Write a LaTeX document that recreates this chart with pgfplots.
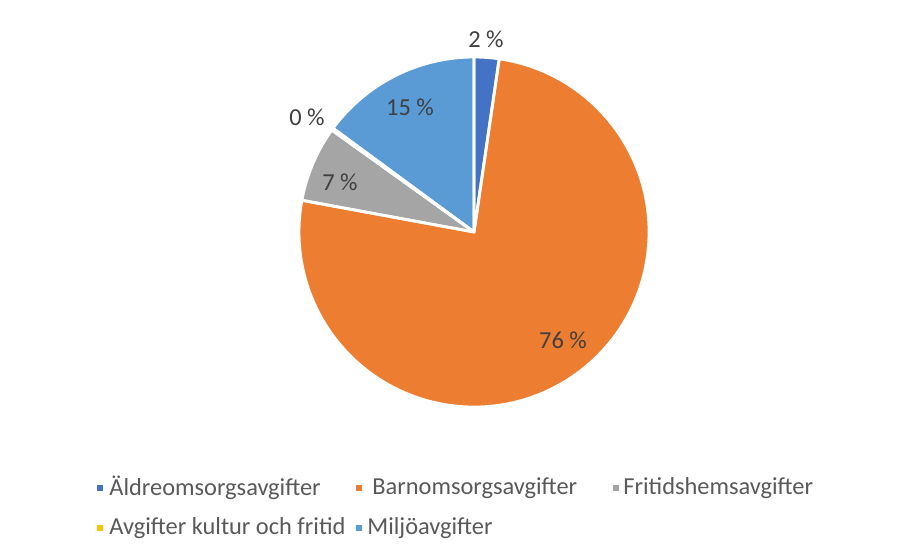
\documentclass[border=0pt]{standalone}
\usepackage{fontspec}
\setmainfont{Carlito}
\usepackage{pgfplots}
\usepackage{pgfplotstable}
\pgfplotsset{compat=1.18}

\definecolor{aldre}{HTML}{4472C4}
\definecolor{barn}{HTML}{ED7D31}
\definecolor{fritids}{HTML}{A5A5A5}
\definecolor{kultur}{HTML}{FFC000}
\definecolor{miljo}{HTML}{5B9BD5}
\definecolor{txt}{HTML}{595959}
\definecolor{lbl}{HTML}{404040}

% share in percent, colour, label position (picture pixels), printed label
\pgfplotstableread{
share colour lx ly label
2.3 aldre 486 39 2
75.6 barn 563 340 76
7.0 fritids 340 182 7
0.2 kultur 307 117 0
14.9 miljo 410 107 15
}\slices

\begin{document}
\begin{tikzpicture}
\begin{axis}[
    x=0.5pt, y=0.5pt,
    xmin=0, xmax=922, ymin=0, ymax=553,
    y dir=reverse,
    hide axis,
    clip=false,
    font=\fontsize{12.2}{14}\selectfont,
]
\path (rel axis cs:0,0) rectangle (rel axis cs:1,1);

\pgfplotstablegetrowsof{\slices}
\pgfmathtruncatemacro\nrows{\pgfplotsretval-1}

% slices
\def\startang{90}
\pgfplotsforeachungrouped \i in {0,...,\nrows}{
  \pgfplotstablegetelem{\i}{share}\of\slices \let\share\pgfplotsretval
  \pgfplotstablegetelem{\i}{colour}\of\slices \let\col\pgfplotsretval
  \pgfmathsetmacro\endang{\startang-3.6*\share}
  \edef\temp{\noexpand\fill[\col] (axis cs:474,232) -- ++(\startang:87.5pt)
    arc[start angle=\startang, end angle=\endang, radius=87.5pt] -- cycle;}
  \temp
  \let\startang\endang
}

% white borders between slices
\def\startang{90}
\pgfplotsforeachungrouped \i in {0,...,\nrows}{
  \pgfplotstablegetelem{\i}{share}\of\slices \let\share\pgfplotsretval
  \pgfmathsetmacro\endang{\startang-3.6*\share}
  \edef\temp{\noexpand\draw[white, line width=1.4pt, line join=round] (axis cs:474,232) -- ++(\startang:87.5pt)
    arc[start angle=\startang, end angle=\endang, radius=87.5pt] -- cycle;}
  \temp
  \let\startang\endang
}

% data labels
\pgfplotsforeachungrouped \i in {0,...,\nrows}{
  \pgfplotstablegetelem{\i}{lx}\of\slices \let\lx\pgfplotsretval
  \pgfplotstablegetelem{\i}{ly}\of\slices \let\ly\pgfplotsretval
  \pgfplotstablegetelem{\i}{label}\of\slices \let\lab\pgfplotsretval
  \edef\temp{\noexpand\node[text=lbl, inner sep=0pt] at (axis cs:\lx,\ly) {\lab\noexpand~\noexpand\%};}
  \temp
}

% legend
\fill[aldre]   (axis cs:97,485)  rectangle (axis cs:103,491);
\node[anchor=west, text=txt, inner sep=0pt] at (axis cs:109,488) {Äldreomsorgsavgifter};
\fill[barn]    (axis cs:356,485) rectangle (axis cs:362,491);
\node[anchor=west, text=txt, inner sep=0pt] at (axis cs:372,488) {Barnomsorgsavgifter};
\fill[fritids] (axis cs:613,485) rectangle (axis cs:619,491);
\node[anchor=west, text=txt, inner sep=0pt] at (axis cs:623,488) {Fritidshemsavgifter};
\fill[kultur]  (axis cs:97,525)  rectangle (axis cs:103,531);
\node[anchor=west, text=txt, inner sep=0pt] at (axis cs:109,528) {Avgifter kultur och fritid};
\fill[miljo]   (axis cs:356,525) rectangle (axis cs:362,531);
\node[anchor=west, text=txt, inner sep=0pt] at (axis cs:367,528) {Miljöavgifter};
\end{axis}
\end{tikzpicture}
\end{document}
